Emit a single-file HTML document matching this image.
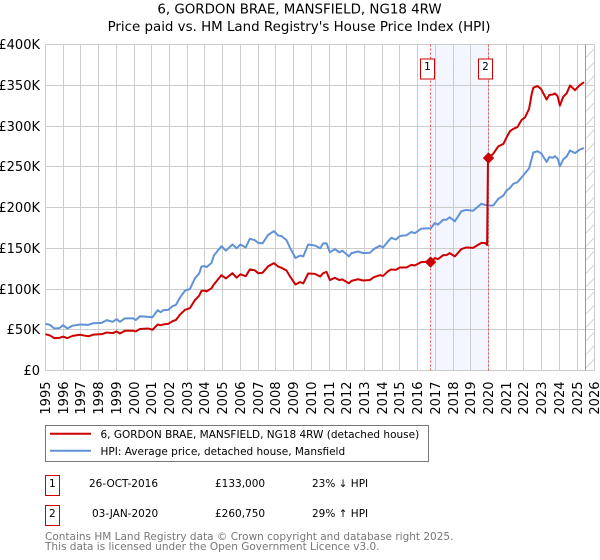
<!DOCTYPE html>
<html>
<head>
<meta charset="utf-8">
<title>6, GORDON BRAE, MANSFIELD, NG18 4RW</title>
<style>
html,body{margin:0;padding:0;background:#fff;width:600px;height:560px;overflow:hidden}
svg{display:block}
text{font-family:"DejaVu Sans","Liberation Sans",sans-serif}
</style>
</head>
<body>
<svg id="chart" width="600" height="560" viewBox="0 0 600 560" xmlns="http://www.w3.org/2000/svg">
  <defs>
    <pattern id="hatch" width="8.5" height="13.5" patternUnits="userSpaceOnUse" x="586" y="44">
      <line x1="0" y1="13.5" x2="8.5" y2="4.5" stroke="#d4d4d4" stroke-width="1"/>
    </pattern>
  </defs>
  <text x="299.5" y="13.5" text-anchor="middle" font-size="13.4" fill="#000">6, GORDON BRAE, MANSFIELD, NG18 4RW</text>
  <text x="299" y="31" text-anchor="middle" font-size="13.4" fill="#000">Price paid vs. HM Land Registry's House Price Index (HPI)</text>
  <g id="plot"></g>

  <rect x="45.5" y="425.5" width="383" height="36" fill="#fff" stroke="#777" stroke-width="1"/>
  <line x1="50" y1="433.7" x2="91" y2="433.7" stroke="#cc0000" stroke-width="2"/>
  <text x="100.5" y="438" font-size="10.5" fill="#000">6, GORDON BRAE, MANSFIELD, NG18 4RW (detached house)</text>
  <line x1="50" y1="450.7" x2="91" y2="450.7" stroke="#6192d8" stroke-width="2"/>
  <text x="100.5" y="455" font-size="10.5" fill="#000">HPI: Average price, detached house, Mansfield</text>

  <rect x="45.5" y="475.5" width="14" height="20" fill="#fff" stroke="#cc0000" stroke-width="1"/>
  <text x="52.3" y="487" text-anchor="middle" font-size="10.5" fill="#000">1</text>
  <text x="89" y="487" font-size="10.5" fill="#000">26-OCT-2016</text>
  <text x="215" y="487" font-size="10.5" fill="#000">£133,000</text>
  <text x="312" y="487" font-size="10.5" fill="#000">23% ↓ HPI</text>

  <rect x="45.5" y="505.5" width="14" height="20" fill="#fff" stroke="#cc0000" stroke-width="1"/>
  <text x="52.3" y="517" text-anchor="middle" font-size="10.5" fill="#000">2</text>
  <text x="92" y="517" font-size="10.5" fill="#000">03-JAN-2020</text>
  <text x="215" y="517" font-size="10.5" fill="#000">£260,750</text>
  <text x="312" y="517" font-size="10.5" fill="#000">29% ↑ HPI</text>

  <text x="45" y="540" font-size="10.5" fill="#777">Contains HM Land Registry data © Crown copyright and database right 2025.</text>
  <text x="45" y="550" font-size="10.5" fill="#777">This data is licensed under the Open Government Licence v3.0.</text>
</svg>
<script>
const yearTicks = [1995,1996,1997,1998,1999,2000,2001,2002,2003,2004,2005,2006,2007,2008,2009,2010,2011,2012,2013,2014,2015,2016,2017,2018,2019,2020,2021,2022,2023,2024,2025,2026];
const valueTicks = [0,50,100,150,200,250,300,350,400];
const valueTickLabels = ['£0','£50K','£100K','£150K','£200K','£250K','£300K','£350K','£400K'];

const dates = [
  1995.0,1995.25,1995.5,1995.78,
  1996.0,1996.23,1996.53,1996.95,
  1997.42,1997.7,
  1998.17,1998.45,1998.79,
  1999.01,1999.2,1999.48,1999.95,
  2000.1,2000.33,2000.8,
  2001.04,2001.33,2001.5,2001.64,2001.93,
  2002.17,2002.36,2002.58,2002.87,
  2003.15,2003.43,2003.68,2003.8,
  2004.0,2004.09,2004.37,2004.5,2004.93,
  2005.18,2005.55,2005.78,
  2006.0,2006.3,2006.53,2006.81,
  2007.0,2007.25,2007.57,2007.89,
  2008.13,2008.32,2008.6,2008.79,
  2009.11,2009.36,2009.55,2009.82,
  2010.2,2010.5,2010.67,2010.86,
  2011.05,2011.33,2011.57,2011.76,
  2012.12,2012.27,2012.64,2012.93,
  2013.3,2013.53,2013.87,
  2014.05,2014.34,2014.52,2014.77,
  2015.0,2015.37,2015.65,2015.84,
  2016.2,2016.59,2016.73,2016.97,
  2017.15,2017.44,2017.63,2017.81,
  2018.1,2018.47,2018.75,
  2019.13,2019.6,2019.84,2019.92,2019.97,
  2020.0,2020.27,2020.55,2020.84,
  2021.02,2021.21,2021.4,2021.63,2021.87,
  2022.06,2022.29,2022.44,2022.53,2022.76,2022.96,
  2023.28,2023.43,2023.62,2023.75,2023.9,
  2024.03,2024.22,2024.41,2024.6,2024.88,
  2025.13,2025.39
];

const hpiValues = [
  57.3,56,51.5,52,
  55.6,51.5,55,56.4,
  56,58,
  58.5,61.8,59.7,
  63,59.7,64,64,
  62,66.6,65.8,
  65.4,74,71.5,74,74.4,
  79,80.5,89,98,
  100,113,119.4,127.6,
  128,126.8,132,141,152.6,
  147,154.6,150,
  154.6,151,161.6,160,
  156.6,156,166.5,171,
  165.6,165,160,151,
  138,141,140,154.6,
  153.4,150,156,156,
  145,149,145,147,
  140,144,146,144,
  144.4,149,153,
  151,158.7,162.8,160.7,
  165,166,170,168.5,
  174,174.6,174,180.8,
  179,185,185,188,
  183,195.5,197,
  196,204.5,203,203,203,
  202.5,202.5,210.6,214.7,
  220.9,224,229,231,237,
  242,248,260,267.5,269,266.7,
  256,261.8,261,263,260,
  250.7,259,262.6,270,266.7,
  270.8,273
];

const priceValues = [
  44.6,43,39.7,40,
  41.7,39.7,42.5,43.8,
  42,44,
  44.6,46.6,45.8,
  47.9,45.4,48.7,48.7,
  47.9,51,51.5,
  50,56.4,55.6,56.4,57.3,
  60.5,62,68.3,74.4,
  76.5,86.3,92,97.7,
  98,97,101,105.5,117,
  113,119.4,114,
  118,115.7,124,123,
  119.4,120,128,131.7,
  127.6,126,122.7,115.7,
  105.5,108.5,107,119,
  118.6,115.3,119.4,121,
  111,113.7,111,111.7,
  107,110,112,110.4,
  111,114.5,117,
  116,122,124,123.5,
  126.4,126.4,129.6,128.8,
  133,133.5,132.5,138,
  136.6,141.5,141.5,144,
  140,149,151,
  150.5,156.6,156.3,154,258,
  261,266,275,278,
  286,293.6,296.5,298.6,307.5,
  310.5,321,339.5,347,349,345.6,
  332.5,338,338.6,340,336.6,
  325,336,340,349.7,344,
  349.7,353.8
];

const saleDates = [2016.73,2020.0];
const salePrices = [133,260.75];
const saleLabels = ['1','2'];
const dataEndDate = 2025.47;

const SVGNS = 'http://www.w3.org/2000/svg';
const plot = document.getElementById('plot');
const LEFT = 45.5, TOP = 44.5, BOTTOM = 370.5, RIGHT = 594.5;
function xScale(year){ return LEFT + (year - 1995) * 17.72; }
function yScale(value){ return BOTTOM - value * (BOTTOM - TOP) / 400; }
function snap(v){ return Math.floor(v) + 0.5; }
function make(tag, attrs, text){
  const el = document.createElementNS(SVGNS, tag);
  for (const k in attrs) el.setAttribute(k, attrs[k]);
  if (text !== undefined) el.textContent = text;
  plot.appendChild(el);
  return el;
}
function pathFrom(xs, ys){
  return xs.map(function(d, i){ return (i ? 'L' : 'M') + xScale(d).toFixed(2) + ' ' + yScale(ys[i]).toFixed(2); }).join(' ');
}

const shade = make('rect', {x: xScale(saleDates[0]), y: TOP, width: xScale(saleDates[1]) - xScale(saleDates[0]), height: BOTTOM - TOP, fill: '#f3f6fe'});



valueTicks.forEach(function(v, i){
  const y = snap(yScale(v));
  const g = make('line', {x1: LEFT, x2: RIGHT, y1: y, y2: y, stroke: '#cccccc', 'stroke-width': 1});
  
  
  const t = make('text', {x: 40, y: y + 4.5, 'text-anchor': 'end', 'font-size': 13, fill: '#000'}, valueTickLabels[i]);
  
  
});

yearTicks.forEach(function(yr){
  const x = snap(xScale(yr));
  const g = make('line', {x1: x, x2: x, y1: TOP, y2: BOTTOM, stroke: '#cccccc', 'stroke-width': 1});
  
  
  const t = make('text', {transform: 'translate(' + (x + 4.7) + ',381.5) rotate(-90)', 'text-anchor': 'end', 'font-size': 13, fill: '#000'}, String(yr));
  
  
});

const hatchRect = make('rect', {x: xScale(dataEndDate), y: TOP, width: RIGHT - xScale(dataEndDate), height: BOTTOM - TOP, fill: 'url(#hatch)'});


const endLine = make('line', {x1: snap(xScale(dataEndDate)), x2: snap(xScale(dataEndDate)), y1: TOP, y2: BOTTOM, stroke: '#999999', 'stroke-width': 1});



saleDates.forEach(function(d){
  const l = make('line', {x1: xScale(d), x2: xScale(d), y1: TOP, y2: BOTTOM, stroke: '#f05050', 'stroke-width': 1, 'stroke-dasharray': '2 2'});
  
  
});

const hpiLine = make('path', {d: pathFrom(dates, hpiValues), fill: 'none', stroke: '#6192d8', 'stroke-width': 2, 'stroke-linejoin': 'round'});


const priceLine = make('path', {d: pathFrom(dates, priceValues), fill: 'none', stroke: '#cc0000', 'stroke-width': 2, 'stroke-linejoin': 'round'});



saleDates.forEach(function(d, i){
  const cx = xScale(d), cy = yScale(salePrices[i]);
  const m = make('polygon', {points: [cx-5,cy, cx,cy-5, cx+5,cy, cx,cy+5].join(' '), fill: '#cc0000', stroke: '#cc0000', 'stroke-width': 1, 'stroke-linejoin': 'round'});
  
  
  const bx = snap(cx - 10.5);
  const b = make('rect', {x: bx, y: 59, width: 14, height: 20, fill: '#fff', stroke: '#cc0000', 'stroke-width': 1});
  
  
  const t = make('text', {x: bx + 7, y: 70, 'text-anchor': 'middle', 'font-size': 10.5, fill: '#000'}, saleLabels[i]);
  
  
});
</script>
</body>
</html>
